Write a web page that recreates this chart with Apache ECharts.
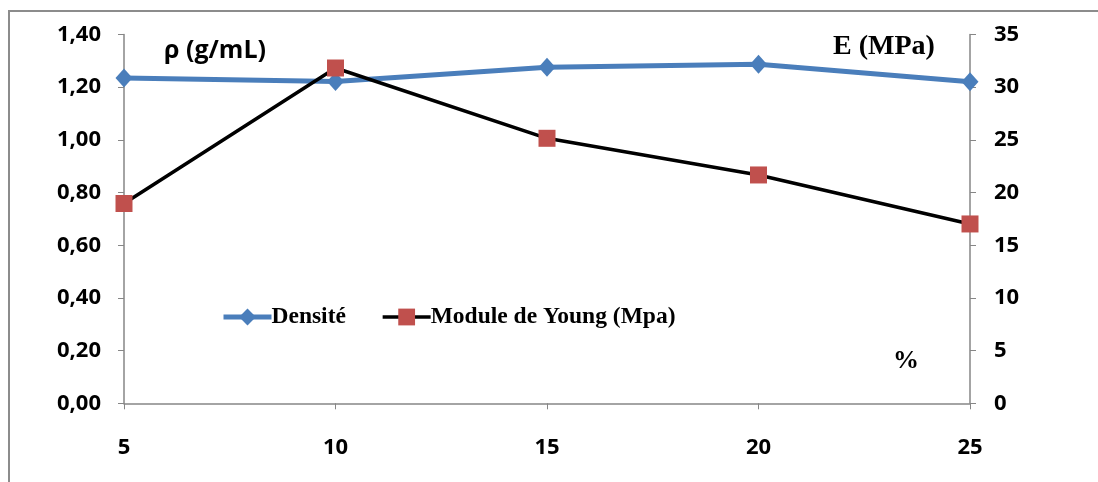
<!DOCTYPE html>
<html>
<head>
<meta charset="utf-8">
<script src="https://cdn.jsdelivr.net/npm/echarts@6/dist/echarts.min.js"></script>
<style>
  html, body { margin: 0; padding: 0; background: #fff; }
  #chart { width: 1098px; height: 482px; }
</style>
</head>
<body>
<div id="chart"></div>
<script>
// Concentration (%) on the x axis
const categories = ['5', '10', '15', '20', '25'];
// Density, g/mL (left axis)
const densite = [1.235, 1.222, 1.276, 1.287, 1.221];
// Young's modulus, MPa (right axis)
const young = [18.96, 31.82, 25.15, 21.67, 17.02];

const axisGray = '#868686';
const blue = '#4a7ebb';
const red = '#c0504d';
const sansBold = { fontFamily: 'Open Sans', fontWeight: 'bold', fontSize: 22, color: '#000' };

const chart = echarts.init(document.getElementById('chart'));
chart.setOption({
  animation: false,
  backgroundColor: '#fff',
  graphic: [
    { type: 'rect', shape: { x: 9, y: 11, width: 1200, height: 600 },
      style: { fill: 'none', stroke: '#8c8c8c', lineWidth: 2 }, z: -1 },
    { type: 'text', left: 164, top: 38,
      style: { text: 'ρ (g/mL)', fontFamily: 'Open Sans', fontWeight: 'bold', fontSize: 25, fill: '#000' } },
    { type: 'text', left: 833, top: 33,
      style: { text: 'E (MPa)', fontFamily: 'Liberation Serif', fontWeight: 'bold', fontSize: 28, fill: '#000' } },
    { type: 'text', left: 893, top: 348,
      style: { text: '%', fontFamily: 'Liberation Serif', fontWeight: 'bold', fontSize: 26, fill: '#000' } }
  ],
  grid: { left: 124, right: 128, top: 34.5, bottom: 78.7, containLabel: false },
  legend: {
    left: 216, top: 300,
    itemWidth: 48, itemHeight: 21, itemGap: 35,
    textStyle: { fontFamily: 'Liberation Serif', fontWeight: 'bold', fontSize: 23.5, color: '#000', padding: [0, 0, 0, -5] },
    data: [
      { name: 'Densité', lineStyle: { width: 5, color: blue } },
      { name: 'Module de Young (Mpa)', lineStyle: { width: 3.5, color: '#000' } }
    ]
  },
  xAxis: {
    type: 'category',
    data: categories,
    boundaryGap: false,
    axisLine: { lineStyle: { color: axisGray, width: 1.5 } },
    axisTick: { alignWithLabel: true, length: 6, lineStyle: { color: axisGray } },
    axisLabel: Object.assign({ margin: 33 }, sansBold)
  },
  yAxis: [
    {
      type: 'value', min: 0, max: 1.4, interval: 0.2,
      axisLine: { show: true, lineStyle: { color: axisGray, width: 1.5 } },
      axisTick: { show: true, length: 6, lineStyle: { color: axisGray } },
      splitLine: { show: false },
      axisLabel: Object.assign({ margin: 23, formatter: v => v.toFixed(2).replace('.', ',') }, sansBold)
    },
    {
      type: 'value', min: 0, max: 35, interval: 5, position: 'right',
      axisLine: { show: true, lineStyle: { color: axisGray, width: 1.5 } },
      axisTick: { show: true, length: 6, lineStyle: { color: axisGray } },
      splitLine: { show: false },
      axisLabel: Object.assign({ margin: 24 }, sansBold)
    }
  ],
  series: [
    {
      name: 'Densité', type: 'line', yAxisIndex: 0, data: densite,
      symbol: 'diamond', symbolSize: [17, 19],
      itemStyle: { color: blue },
      lineStyle: { color: blue, width: 5 }
    },
    {
      name: 'Module de Young (Mpa)', type: 'line', yAxisIndex: 1, data: young,
      symbol: 'rect', symbolSize: 17,
      itemStyle: { color: red },
      lineStyle: { color: '#000', width: 3.5 }
    }
  ]
});
</script>
</body>
</html>
